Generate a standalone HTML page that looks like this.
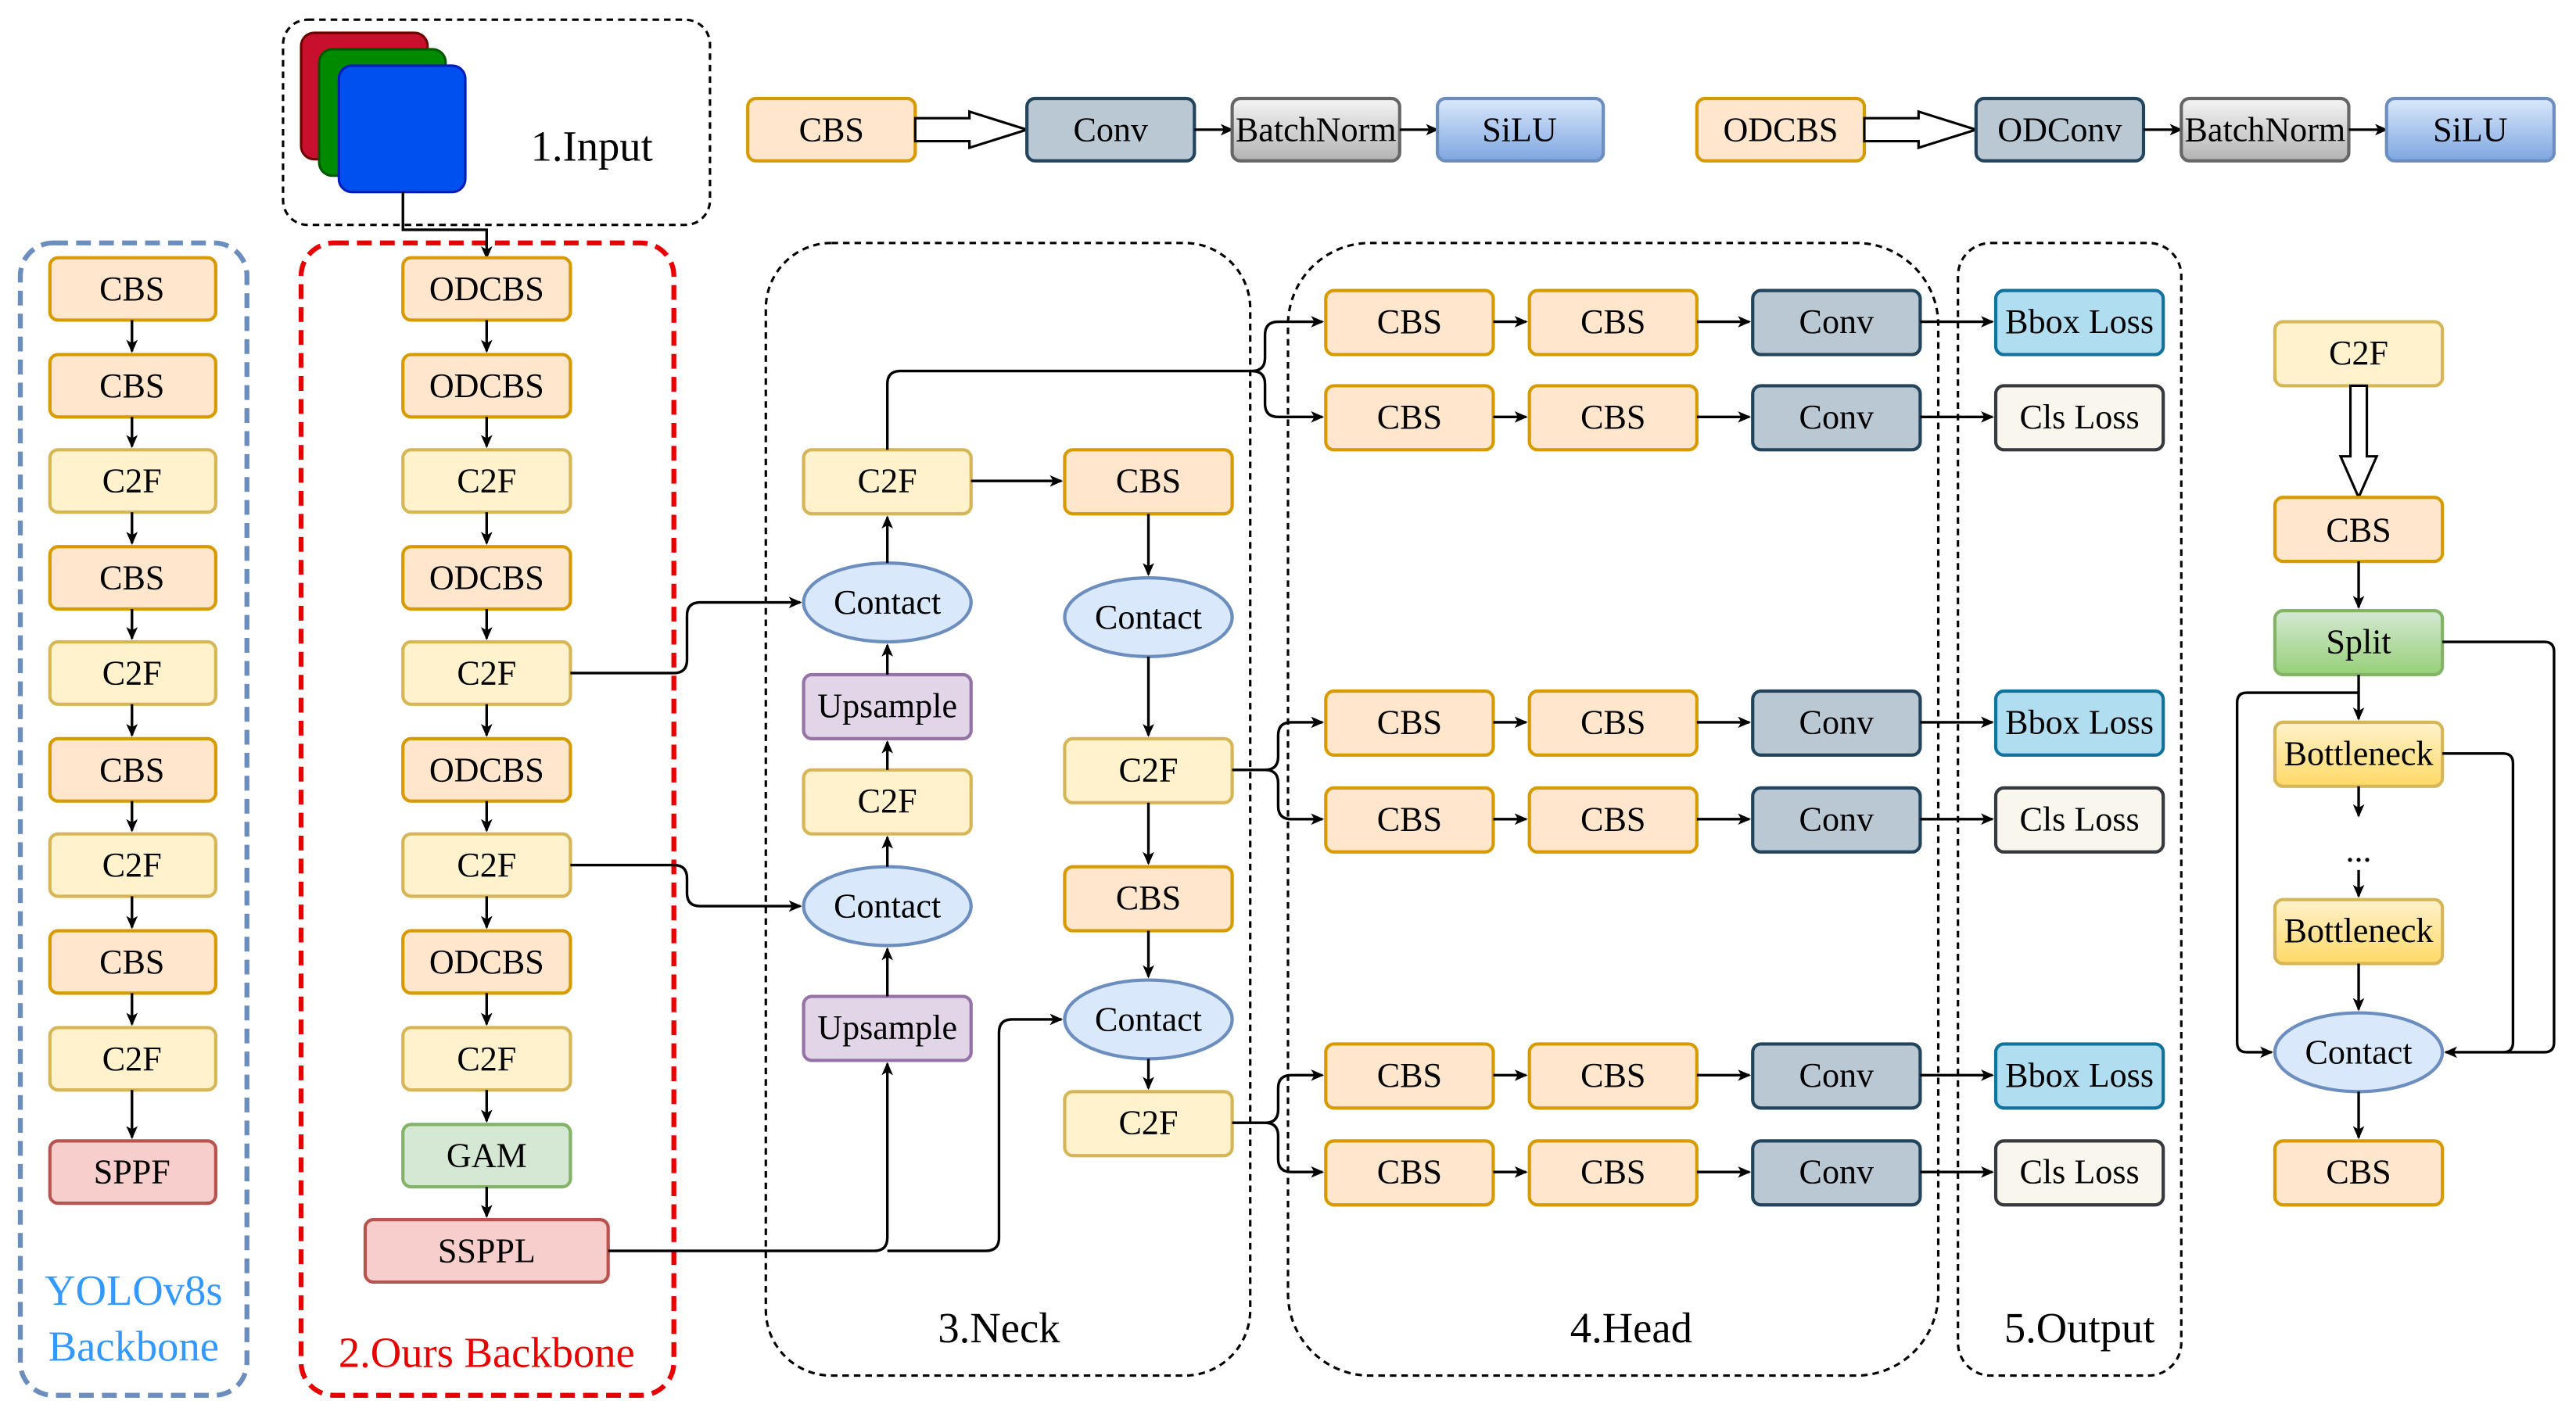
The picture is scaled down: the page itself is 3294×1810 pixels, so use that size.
<!DOCTYPE html><html><head><style>html,body{margin:0;padding:0;background:#fff}svg{display:block}</style></head><body>
<svg width="3294" height="1810" viewBox="0 0 1568 862" xmlns="http://www.w3.org/2000/svg" style="font-family:'Liberation Serif',serif">
<defs>
<marker id="a" markerWidth="8" markerHeight="8" refX="7" refY="4" orient="auto" markerUnits="userSpaceOnUse"><path d="M0,0.5 L8,4 L0,7.5 L2,4z" fill="#000"/></marker>
<linearGradient id="gB" x1="0" y1="0" x2="0" y2="1"><stop offset="0" stop-color="#f5f5f5"/><stop offset="1" stop-color="#b3b3b3"/></linearGradient>
<linearGradient id="gS" x1="0" y1="0" x2="0" y2="1"><stop offset="0" stop-color="#dae8fc"/><stop offset="1" stop-color="#7ea6e0"/></linearGradient>
<linearGradient id="gG" x1="0" y1="0" x2="0" y2="1"><stop offset="0" stop-color="#d5e8d4"/><stop offset="1" stop-color="#97d077"/></linearGradient>
<linearGradient id="gY" x1="0" y1="0" x2="0" y2="1"><stop offset="0" stop-color="#fff2cc"/><stop offset="1" stop-color="#ffd966"/></linearGradient>
</defs>
<style>
text{font-family:"Liberation Serif",serif}
.t{font-size:21px;text-anchor:middle;dominant-baseline:central;fill:#000;font-family:"Liberation Serif",serif}
.cbs{fill:#ffe6cc;stroke:#d79b00;stroke-width:2}
.c2f{fill:#fff2cc;stroke:#d6b656;stroke-width:2}
.conv{fill:#bac8d3;stroke:#23445d;stroke-width:2}
.ln{fill:none;stroke:#000;stroke-width:1.6}
.d{fill:none;stroke:#000;stroke-width:1.5;stroke-dasharray:4,3}
</style>
<rect x="172" y="12" width="260" height="125" rx="15" class="d"/>
<rect x="12" y="148" width="138" height="702" rx="20" fill="none" stroke="#6c8ebf" stroke-width="3" stroke-dasharray="9,5"/>
<rect x="183" y="148" width="227" height="702" rx="20" fill="none" stroke="#e60000" stroke-width="3" stroke-dasharray="9,5"/>
<rect x="466" y="148" width="295" height="690" rx="40" class="d"/>
<rect x="784" y="148" width="396" height="690" rx="50" class="d"/>
<rect x="1192" y="148" width="136" height="690" rx="20" class="d"/>
<text x="81" y="786" class="t" style="font-size:26px;fill:#3399ff">YOLOv8s</text>
<text x="81" y="820" class="t" style="font-size:26px;fill:#3399ff">Backbone</text>
<text x="296" y="824" class="t" style="font-size:26px;fill:#e60000">2.Ours Backbone</text>
<text x="608" y="809" class="t" style="font-size:26px">3.Neck</text>
<text x="993" y="809" class="t" style="font-size:26px">4.Head</text>
<text x="1266" y="809" class="t" style="font-size:26px">5.Output</text>
<rect x="183" y="20" width="77" height="77" rx="8" fill="#c8102e" stroke="#6f0000" stroke-width="1.5"/>
<rect x="194" y="30" width="77" height="77" rx="8" fill="#008a00" stroke="#005700" stroke-width="1.5"/>
<rect x="206" y="40" width="77" height="77" rx="8" fill="#0050ef" stroke="#001dbc" stroke-width="1.5"/>
<text x="360" y="89" class="t" style="font-size:26px">1.Input</text>
<path d="M245,117 V140 H296 V157" class="ln" marker-end="url(#a)"/>
<rect x="455" y="60" width="102" height="38" rx="5" class="cbs"/><text x="506" y="79" class="t">CBS</text>
<path d="M557,72 H590 V68 L625,79 L590,90 V86 H557 Z" fill="#fff" stroke="#000" stroke-width="1.5"/>
<rect x="625" y="60" width="102" height="38" rx="5" class="conv"/><text x="676" y="79" class="t">Conv</text>
<path d="M727,79 H750" class="ln" marker-end="url(#a)"/>
<rect x="750" y="60" width="102" height="38" rx="5" fill="url(#gB)" stroke="#666" stroke-width="2"/><text x="801" y="79" class="t">BatchNorm</text>
<path d="M852,79 H875" class="ln" marker-end="url(#a)"/>
<rect x="875" y="60" width="101" height="38" rx="5" fill="url(#gS)" stroke="#6c8ebf" stroke-width="2"/><text x="925" y="79" class="t">SiLU</text>
<rect x="1033" y="60" width="102" height="38" rx="5" class="cbs"/><text x="1084" y="79" class="t">ODCBS</text>
<path d="M1135,72 H1168 V68 L1203,79 L1168,90 V86 H1135 Z" fill="#fff" stroke="#000" stroke-width="1.5"/>
<rect x="1203" y="60" width="102" height="38" rx="5" class="conv"/><text x="1254" y="79" class="t">ODConv</text>
<path d="M1305,79 H1328" class="ln" marker-end="url(#a)"/>
<rect x="1328" y="60" width="102" height="38" rx="5" fill="url(#gB)" stroke="#666" stroke-width="2"/><text x="1379" y="79" class="t">BatchNorm</text>
<path d="M1430,79 H1453" class="ln" marker-end="url(#a)"/>
<rect x="1453" y="60" width="102" height="38" rx="5" fill="url(#gS)" stroke="#6c8ebf" stroke-width="2"/><text x="1504" y="79" class="t">SiLU</text>
<rect x="30" y="157" width="101" height="38" rx="5" class="cbs"/><text x="80" y="176" class="t">CBS</text>
<rect x="30" y="216" width="101" height="38" rx="5" class="cbs"/><text x="80" y="235" class="t">CBS</text>
<rect x="30" y="274" width="101" height="38" rx="5" class="c2f"/><text x="80" y="293" class="t">C2F</text>
<rect x="30" y="333" width="101" height="38" rx="5" class="cbs"/><text x="80" y="352" class="t">CBS</text>
<rect x="30" y="391" width="101" height="38" rx="5" class="c2f"/><text x="80" y="410" class="t">C2F</text>
<rect x="30" y="450" width="101" height="38" rx="5" class="cbs"/><text x="80" y="469" class="t">CBS</text>
<rect x="30" y="508" width="101" height="38" rx="5" class="c2f"/><text x="80" y="527" class="t">C2F</text>
<rect x="30" y="567" width="101" height="38" rx="5" class="cbs"/><text x="80" y="586" class="t">CBS</text>
<rect x="30" y="626" width="101" height="38" rx="5" class="c2f"/><text x="80" y="645" class="t">C2F</text>
<rect x="30" y="695" width="101" height="38" rx="5" fill="#f8cecc" stroke="#b85450" stroke-width="2"/><text x="80" y="714" class="t">SPPF</text>
<path d="M80,195V214" class="ln" marker-end="url(#a)"/><path d="M80,254V272" class="ln" marker-end="url(#a)"/><path d="M80,312V331" class="ln" marker-end="url(#a)"/><path d="M80,371V389" class="ln" marker-end="url(#a)"/><path d="M80,429V448" class="ln" marker-end="url(#a)"/><path d="M80,488V506" class="ln" marker-end="url(#a)"/><path d="M80,546V565" class="ln" marker-end="url(#a)"/><path d="M80,605V624" class="ln" marker-end="url(#a)"/><path d="M80,664V693" class="ln" marker-end="url(#a)"/>
<rect x="245" y="157" width="102" height="38" rx="5" class="cbs"/><text x="296" y="176" class="t">ODCBS</text>
<rect x="245" y="216" width="102" height="38" rx="5" class="cbs"/><text x="296" y="235" class="t">ODCBS</text>
<rect x="245" y="274" width="102" height="38" rx="5" class="c2f"/><text x="296" y="293" class="t">C2F</text>
<rect x="245" y="333" width="102" height="38" rx="5" class="cbs"/><text x="296" y="352" class="t">ODCBS</text>
<rect x="245" y="391" width="102" height="38" rx="5" class="c2f"/><text x="296" y="410" class="t">C2F</text>
<rect x="245" y="450" width="102" height="38" rx="5" class="cbs"/><text x="296" y="469" class="t">ODCBS</text>
<rect x="245" y="508" width="102" height="38" rx="5" class="c2f"/><text x="296" y="527" class="t">C2F</text>
<rect x="245" y="567" width="102" height="38" rx="5" class="cbs"/><text x="296" y="586" class="t">ODCBS</text>
<rect x="245" y="626" width="102" height="38" rx="5" class="c2f"/><text x="296" y="645" class="t">C2F</text>
<rect x="245" y="685" width="102" height="38" rx="5" fill="#d5e8d4" stroke="#82b366" stroke-width="2"/><text x="296" y="704" class="t">GAM</text>
<rect x="222" y="743" width="148" height="38" rx="5" fill="#f8cecc" stroke="#b85450" stroke-width="2"/><text x="296" y="762" class="t">SSPPL</text>
<path d="M296,195V214" class="ln" marker-end="url(#a)"/><path d="M296,254V272" class="ln" marker-end="url(#a)"/><path d="M296,312V331" class="ln" marker-end="url(#a)"/><path d="M296,371V389" class="ln" marker-end="url(#a)"/><path d="M296,429V448" class="ln" marker-end="url(#a)"/><path d="M296,488V506" class="ln" marker-end="url(#a)"/><path d="M296,546V565" class="ln" marker-end="url(#a)"/><path d="M296,605V624" class="ln" marker-end="url(#a)"/><path d="M296,664V683" class="ln" marker-end="url(#a)"/><path d="M296,723V741" class="ln" marker-end="url(#a)"/>
<rect x="489" y="274" width="102" height="39" rx="5" class="c2f"/><text x="540" y="293" class="t">C2F</text>
<ellipse cx="540" cy="367" rx="51" ry="24" fill="#dae8fc" stroke="#6c8ebf" stroke-width="2"/><text x="540" y="367" class="t">Contact</text>
<rect x="489" y="411" width="102" height="39" rx="5" fill="#e1d5e7" stroke="#9673a6" stroke-width="2"/><text x="540" y="430" class="t">Upsample</text>
<rect x="489" y="469" width="102" height="39" rx="5" class="c2f"/><text x="540" y="488" class="t">C2F</text>
<ellipse cx="540" cy="552" rx="51" ry="24" fill="#dae8fc" stroke="#6c8ebf" stroke-width="2"/><text x="540" y="552" class="t">Contact</text>
<rect x="489" y="607" width="102" height="39" rx="5" fill="#e1d5e7" stroke="#9673a6" stroke-width="2"/><text x="540" y="626" class="t">Upsample</text>
<rect x="648" y="274" width="102" height="39" rx="5" class="cbs"/><text x="699" y="293" class="t">CBS</text>
<ellipse cx="699" cy="376" rx="51" ry="24" fill="#dae8fc" stroke="#6c8ebf" stroke-width="2"/><text x="699" y="376" class="t">Contact</text>
<rect x="648" y="450" width="102" height="39" rx="5" class="c2f"/><text x="699" y="469" class="t">C2F</text>
<rect x="648" y="528" width="102" height="39" rx="5" class="cbs"/><text x="699" y="547" class="t">CBS</text>
<ellipse cx="699" cy="621" rx="51" ry="24" fill="#dae8fc" stroke="#6c8ebf" stroke-width="2"/><text x="699" y="621" class="t">Contact</text>
<rect x="648" y="665" width="102" height="39" rx="5" class="c2f"/><text x="699" y="684" class="t">C2F</text>
<path d="M347,410 H410 Q418,410 418,402 V375 Q418,367 426,367 H487" class="ln" marker-end="url(#a)"/>
<path d="M347,527 H410 Q418,527 418,535 V544 Q418,552 426,552 H487" class="ln" marker-end="url(#a)"/>
<path d="M370,762 H532 Q540,762 540,754 V648" class="ln" marker-end="url(#a)"/>
<path d="M540,762 H600 Q608,762 608,754 V629 Q608,621 616,621 H646" class="ln" marker-end="url(#a)"/>
<path d="M540,607V578" class="ln" marker-end="url(#a)"/>
<path d="M540,528V510" class="ln" marker-end="url(#a)"/>
<path d="M540,469V452" class="ln" marker-end="url(#a)"/>
<path d="M540,411V393" class="ln" marker-end="url(#a)"/>
<path d="M540,343V315" class="ln" marker-end="url(#a)"/>
<path d="M591,293H646" class="ln" marker-end="url(#a)"/>
<path d="M699,313V350" class="ln" marker-end="url(#a)"/>
<path d="M699,400V448" class="ln" marker-end="url(#a)"/>
<path d="M699,489V526" class="ln" marker-end="url(#a)"/>
<path d="M699,567V595" class="ln" marker-end="url(#a)"/>
<path d="M699,645V663" class="ln" marker-end="url(#a)"/>
<path d="M540,274 V234 Q540,226 548,226 H762 Q770,226 770,218 V204 Q770,196 778,196 H805" class="ln" marker-end="url(#a)"/>
<path d="M762,226 Q770,226 770,234 V246 Q770,254 778,254 H805" class="ln" marker-end="url(#a)"/>
<path d="M750,469 H770 Q778,469 778,461 V448 Q778,440 786,440 H805" class="ln" marker-end="url(#a)"/>
<path d="M770,469 Q778,469 778,477 V491 Q778,499 786,499 H805" class="ln" marker-end="url(#a)"/>
<path d="M750,684 H770 Q778,684 778,676 V663 Q778,655 786,655 H805" class="ln" marker-end="url(#a)"/>
<path d="M770,684 Q778,684 778,692 V706 Q778,714 786,714 H805" class="ln" marker-end="url(#a)"/>
<g id="row">
<rect x="807" y="177" width="102" height="39" rx="5" class="cbs"/><text x="858" y="196" class="t">CBS</text>
<rect x="931" y="177" width="102" height="39" rx="5" class="cbs"/><text x="982" y="196" class="t">CBS</text>
<rect x="1067" y="177" width="102" height="39" rx="5" class="conv"/><text x="1118" y="196" class="t">Conv</text>
<path d="M909,196H929" class="ln" marker-end="url(#a)"/><path d="M1033,196H1065" class="ln" marker-end="url(#a)"/><path d="M1169,196H1213" class="ln" marker-end="url(#a)"/>
</g>
<use href="#row" y="58"/><use href="#row" y="244"/><use href="#row" y="303"/><use href="#row" y="459"/><use href="#row" y="518"/>
<rect x="1215" y="177" width="102" height="39" rx="5" fill="#b1ddf0" stroke="#10739e" stroke-width="2"/><text x="1266" y="196" class="t">Bbox Loss</text>
<rect x="1215" y="235" width="102" height="39" rx="5" fill="#f9f7ed" stroke="#36393d" stroke-width="2"/><text x="1266" y="254" class="t">Cls Loss</text>
<rect x="1215" y="421" width="102" height="39" rx="5" fill="#b1ddf0" stroke="#10739e" stroke-width="2"/><text x="1266" y="440" class="t">Bbox Loss</text>
<rect x="1215" y="480" width="102" height="39" rx="5" fill="#f9f7ed" stroke="#36393d" stroke-width="2"/><text x="1266" y="499" class="t">Cls Loss</text>
<rect x="1215" y="636" width="102" height="39" rx="5" fill="#b1ddf0" stroke="#10739e" stroke-width="2"/><text x="1266" y="655" class="t">Bbox Loss</text>
<rect x="1215" y="695" width="102" height="39" rx="5" fill="#f9f7ed" stroke="#36393d" stroke-width="2"/><text x="1266" y="714" class="t">Cls Loss</text>
<rect x="1385" y="196" width="102" height="39" rx="5" class="c2f"/><text x="1436" y="215" class="t">C2F</text>
<path d="M1431,235 V278 H1425 L1436,303 L1447,278 H1441 V235 Z" fill="#fff" stroke="#000" stroke-width="1.5"/>
<rect x="1385" y="303" width="102" height="39" rx="5" class="cbs"/><text x="1436" y="323" class="t">CBS</text>
<rect x="1385" y="372" width="102" height="39" rx="5" fill="url(#gG)" stroke="#82b366" stroke-width="2"/><text x="1436" y="391" class="t">Split</text>
<rect x="1385" y="440" width="102" height="39" rx="5" fill="url(#gY)" stroke="#d6b656" stroke-width="2"/><text x="1436" y="459" class="t">Bottleneck</text>
<text x="1436" y="518" class="t">...</text>
<rect x="1385" y="548" width="102" height="39" rx="5" fill="url(#gY)" stroke="#d6b656" stroke-width="2"/><text x="1436" y="567" class="t">Bottleneck</text>
<ellipse cx="1436" cy="641" rx="51" ry="24" fill="#dae8fc" stroke="#6c8ebf" stroke-width="2"/><text x="1436" y="641" class="t">Contact</text>
<rect x="1385" y="695" width="102" height="39" rx="5" class="cbs"/><text x="1436" y="714" class="t">CBS</text>
<path d="M1436,342V370" class="ln" marker-end="url(#a)"/>
<path d="M1436,411V438" class="ln" marker-end="url(#a)"/>
<path d="M1436,479V497" class="ln" marker-end="url(#a)"/>
<path d="M1436,530V546" class="ln" marker-end="url(#a)"/>
<path d="M1436,587V615" class="ln" marker-end="url(#a)"/>
<path d="M1436,665V693" class="ln" marker-end="url(#a)"/>
<path d="M1487,391 H1549 Q1555,391 1555,397 V635 Q1555,641 1549,641 H1489" class="ln" marker-end="url(#a)"/>
<path d="M1487,459 H1524 Q1530,459 1530,465 V635 Q1530,641 1524,641" class="ln"/>
<path d="M1436,422 H1368 Q1362,422 1362,428 V635 Q1362,641 1368,641 H1383" class="ln" marker-end="url(#a)"/>
</svg>
</body></html>
